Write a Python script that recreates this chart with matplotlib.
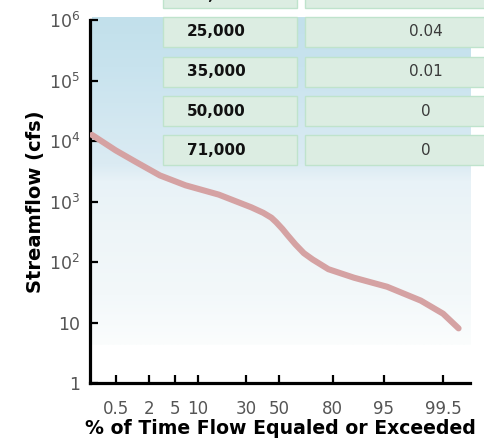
import numpy as np
import matplotlib
matplotlib.use("Agg")
import matplotlib.pyplot as plt
from matplotlib.patches import Rectangle
from matplotlib.colors import LinearSegmentedColormap
from statistics import NormalDist

# 流量历时曲线数据
pct_exceeded = [0.16, 0.5, 1.2, 3, 7, 17, 33, 40, 45, 48, 52, 55, 60, 65, 70, 78,
                88, 95.5, 98.7, 99.5, 99.76]
streamflow = [12600, 7000, 4500, 2700, 1850, 1300, 800, 650, 540, 455, 350, 280,
              195, 140, 110, 76, 55, 39, 23, 14, 8]

x_tick_pct = [0.5, 2, 5, 10, 30, 50, 80, 95, 99.5]
x_tick_labels = ["0.5", "2", "5", "10", "30", "50", "80", "95", "99.5"]
y_tick_vals = [1, 10, 1e2, 1e3, 1e4, 1e5, 1e6]
y_tick_labels = ["1", "10", r"$10^2$", r"$10^3$", r"$10^4$", r"$10^5$", r"$10^6$"]

# 右上角表格
table_flow = ["15,000", "25,000", "35,000", "50,000", "71,000"]
table_prob = ["0.08", "0.04", "0.01", "0", "0"]

W, H = 485, 446
nd = NormalDist()


def z(p):
    return nd.inv_cdf(p / 100.0)


def fx(px):
    return px / W


def fy(py):
    return 1 - py / H


plt.rcParams["mathtext.default"] = "regular"
fig = plt.figure(figsize=(W / 100, H / 100), dpi=100)
ax = fig.add_axes([fx(90), fy(383), fx(470) - fx(90), fy(20) - fy(383)])

# 背景渐变
stops = [(0.0, "#c2e0eb"), (0.15, "#c8e3ee"), (0.45, "#dbebf3"), (0.50, "#e8f2f7"),
         (0.65, "#eef5f8"), (0.85, "#f3f8fa"), (1.0, "#fbfdfd")]
cmap = LinearSegmentedColormap.from_list("bg", stops)
grad = np.linspace(0, 1, 256).reshape(-1, 1)
ax.imshow(grad, cmap=cmap, aspect="auto", extent=[0.005, 1.0, 0.105, 1.008],
          transform=ax.transAxes, zorder=0, clip_on=False)

xs = [z(p) for p in pct_exceeded]
ax.plot(xs, streamflow, color="#d5a2a3", lw=4.4, solid_capstyle="round",
        solid_joinstyle="round", zorder=3)

ax.set_yscale("log")
ax.set_ylim(1, 1e6)
ax.set_xlim(-2.98, 3.0)
ax.set_yticks(y_tick_vals)
ax.set_yticklabels(y_tick_labels)
ax.yaxis.set_minor_locator(matplotlib.ticker.NullLocator())
ax.set_xticks([z(p) for p in x_tick_pct])
ax.set_xticklabels(x_tick_labels)

for s in ["top", "right"]:
    ax.spines[s].set_visible(False)
for s in ["left", "bottom"]:
    ax.spines[s].set_linewidth(2.3)
    ax.spines[s].set_color("black")
ax.tick_params(axis="both", direction="in", length=6, width=1.6, colors="black",
               labelcolor="#555555", labelsize=12)
ax.tick_params(axis="x", pad=12)
ax.tick_params(axis="y", pad=7, labelsize=12.5)
ax.patch.set_visible(False)

ax.set_ylabel("Streamflow (cfs)", fontsize=14, fontweight="bold", labelpad=3)
ax.set_xlabel("% of Time Flow Equaled or Exceeded", fontsize=13.6, fontweight="bold", labelpad=1)

# 表格
row_tops = [-22, 17, 57, 96, 135]
for i, (fl, pr) in enumerate(zip(table_flow, table_prob)):
    top = row_tops[i]
    h = 30
    ty = top + h / 2 if i > 0 else -4
    for x0, x1 in [(163, 297), (305, 490)]:
        fig.add_artist(Rectangle((fx(x0), fy(top + h)), fx(x1) - fx(x0), h / H,
                                 facecolor="#dcede2", edgecolor="#bfe3cc", lw=1.0,
                                 zorder=5))
    fig.text(fx(187), fy(ty), fl, fontsize=11, fontweight="bold",
             color="#111111", va="center", ha="left", zorder=6)
    fig.text(fx(426), fy(ty), pr, fontsize=11, color="#3a3a3a",
             va="center", ha="center", zorder=6)

fig.savefig("out.png", dpi=100)
